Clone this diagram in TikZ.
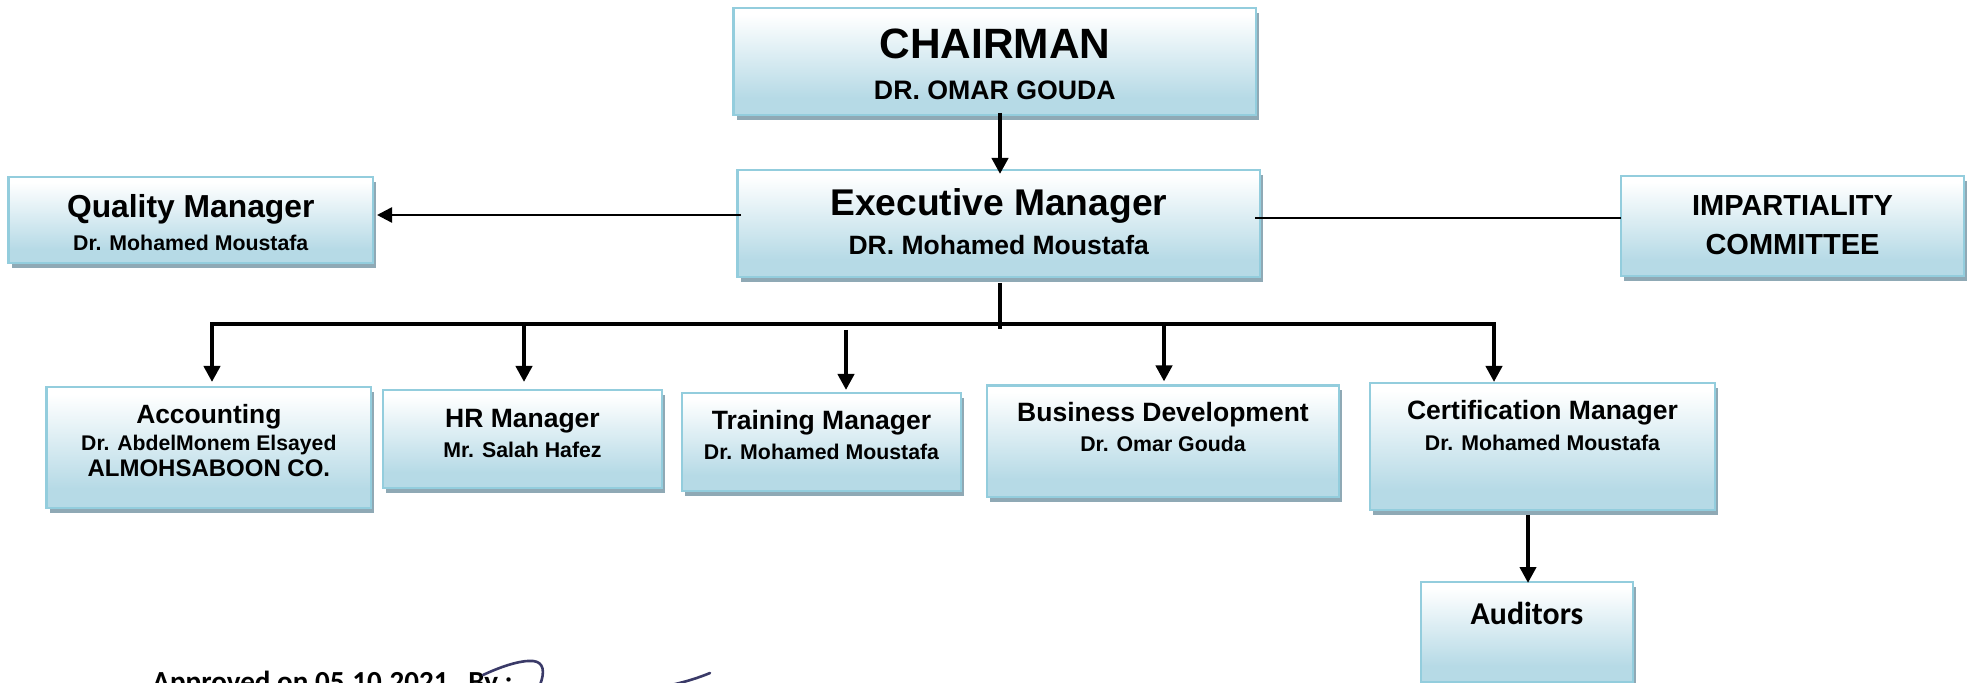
\documentclass[tikz,border=0pt]{standalone}
\usepackage{fontspec}
\setmainfont{Liberation Sans}
\newfontfamily\calibrilike{Carlito}
\usetikzlibrary{arrows.meta,shadows,calc}
\definecolor{boxlow}{HTML}{B6DAE6}
\definecolor{boxedge}{HTML}{93CDDD}
\definecolor{boxshadow}{HTML}{8FA9B5}
\definecolor{inkblue}{HTML}{3A3A68}
\pgfdeclareverticalshading{boxshade}{100bp}{color(0bp)=(boxlow); color(33bp)=(boxlow); color(72bp)=(white); color(100bp)=(white)}
\newcommand\Ln[3]{\raisebox{0pt}[#2pt][0pt]{\fontsize{#1pt}{#1pt}\selectfont #3}\par}
\newcommand\orgbox[6]{%
  \pgfmathsetmacro\bx{(#2+#4)/2}\pgfmathsetmacro\by{(#3+#5)/2}%
  \pgfmathsetmacro\bw{(#4-#2)*0.5}\pgfmathsetmacro\bh{(#5-#3)*0.5}%
  \node[orgstyle] (#1) at (\bx,\by) {\parbox[c][\bh pt][t]{\bw pt}{\centering\offinterlineskip #6}};}
\tikzset{
  orgstyle/.style={draw=boxedge,line width=1.4pt,shading=boxshade,shading angle=0,inner sep=0pt,outer sep=0pt,
    font=\bfseries,drop shadow={shadow xshift=1.6pt,shadow yshift=-2.3pt,opacity=1,fill=boxshadow}},
  boldarrow/.style={line width=2pt,-{Triangle[length=8pt,width=8pt]}},
  midarrow/.style={line width=1.25pt,-{Triangle[length=7.5pt,width=7.5pt]}},
  busline/.style={line width=2pt},
  thinline/.style={line width=0.9pt},
  sign/.style={draw=inkblue,line width=1.3pt,line cap=round}
}
\begin{document}
\begin{tikzpicture}[x=0.5pt,y=-0.5pt]
\useasboundingbox (0,0) rectangle (1969,683);
\clip (0,0) rectangle (1969,683);
\orgbox{chair}{733.7}{8}{1256}{115}{\Ln{21.2}{25.5}{CHAIRMAN}\Ln{13.35}{20.5}{DR. OMAR GOUDA}}
\orgbox{exec}{737.5}{170}{1260}{277}{\Ln{18.6}{23}{Executive Manager}\Ln{13.25}{19.5}{DR. Mohamed Moustafa}}
\orgbox{quality}{8.5}{177}{373}{263}{\Ln{15.9}{20.5}{Quality Manager}\Ln{10.65}{16.5}{Dr. Mohamed Moustafa}}
\orgbox{impart}{1621}{176}{1964}{276}{\Ln{14.5}{20}{IMPARTIALITY}\Ln{14.5}{19.5}{COMMITTEE}}
\orgbox{acct}{46.7}{387}{371}{508}{\Ln{13.2}{18.5}{Accounting}\Ln{10.6}{13}{Dr. AbdelMonem Elsayed}\Ln{12}{13.5}{ALMOHSABOON CO.}}
\orgbox{hr}{383}{390}{662}{488}{\Ln{13.25}{19}{HR Manager}\Ln{10.65}{15}{Mr. Salah Hafez}}
\orgbox{train}{682}{393}{961}{491}{\Ln{13.25}{18.25}{Training Manager}\Ln{10.65}{15.25}{Dr. Mohamed Moustafa}}
\orgbox{biz}{987}{385.5}{1339}{497}{\Ln{13.25}{18.25}{Business Development}\Ln{10.65}{15}{Dr. Omar Gouda}}
\orgbox{cert}{1370}{383}{1715}{510}{\Ln{13.25}{18}{Certification Manager}\Ln{10.65}{15.5}{Dr. Mohamed Moustafa}}
\orgbox{aud}{1421}{582}{1633}{682}{\Ln{15.9}{21}{\calibrilike\bfseries Auditors}}
% connector guides
\coordinate (cx) at (1000,0);
\coordinate (qy) at (0,215);
\coordinate (iy) at (0,218);
\coordinate (busend) at (1000,329);
\coordinate (d1) at (212,324);
\coordinate (d2) at (524,324);
\coordinate (d3) at (846,330);
\coordinate (d4) at (1164,324);
\coordinate (d5) at (1494,324);
\coordinate (ax) at (1528,0);
\draw[boldarrow,shorten >=-2pt,shorten <=-1pt] (chair.south -| cx) -- (exec.north -| cx);
\draw[midarrow,shorten >=2pt,shorten <=-1.75pt] (exec.west |- qy) -- (quality.east |- qy);
\draw[thinline,shorten <=-2.5pt] (exec.east |- iy) -- (impart.west |- iy);
\draw[busline,shorten <=3pt] (exec.south -| cx) -- (busend);
\draw[busline,line cap=rect] (d1) -- (d5);
\draw[boldarrow,shorten >=2.5pt] (d1) -- (acct.north -| d1);
\draw[boldarrow,shorten >=4pt] (d2) -- (hr.north -| d2);
\draw[boldarrow,shorten >=1.5pt] (d3) -- (train.north -| d3);
\draw[boldarrow,shorten >=2pt] (d4) -- (biz.north -| d4);
\draw[boldarrow,shorten >=0.5pt] (d5) -- (cert.north -| d5);
\draw[boldarrow,shorten <=2.5pt,shorten >=-0.5pt] (cert.south -| ax) -- (aud.north -| ax);
\node[anchor=base west,inner sep=0pt,font=\calibrilike\bfseries\fontsize{14.55}{14.55}\selectfont] (approved) at (152,691) {Approved on 05.10.2021\ \ \ By :};
\draw[sign] (483,675) .. controls (500,667) and (520,660) .. (533,661) .. controls (544,662) and (545,672) .. (540,685);
\draw[sign] (671,685) .. controls (685,682) and (698,678) .. (710,673);
\end{tikzpicture}
\end{document}
